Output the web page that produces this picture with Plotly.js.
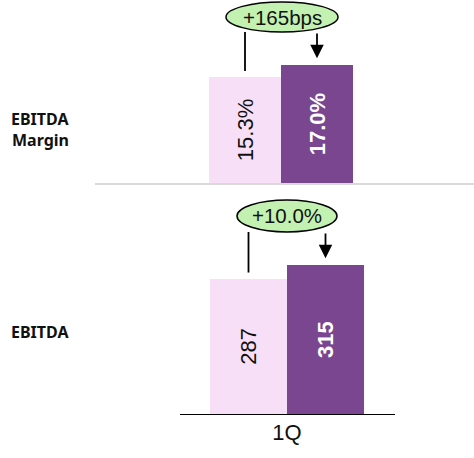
<!DOCTYPE html>
<html>
<head>
<meta charset="utf-8">
<script src="https://cdn.plot.ly/plotly-3.0.1.min.js"></script>
<style>html,body{margin:0;padding:0;background:#fff;}#chart{width:474px;height:458px;}</style>
</head>
<body>
<div id="chart"></div>
<script>
// ---- data ----
const periods = ['Prior', 'Current'];
const marginValues = [15.3, 17.0];
const marginLabels = ['15.3%', '17.0%'];
const ebitdaValues = [287, 315];
const ebitdaLabels = ['287', '315'];
const changeLabels = ['+165bps', '+10.0%'];
const rowLabelLines = [['EBITDA', 'Margin'], ['EBITDA']];
const tickLabels = ['1Q'];

// ---- layout helpers (pixel geometry of the page) ----
const W = 474, H = 458;
const lightCol = '#f7e0f7', darkCol = '#7b4690';
const font = 'Liberation Sans, Arial, sans-serif';

const topR = 26.4;
const topPx = [0, 183];
const botR = 464;
const botPx = [195, 414];

function d2y(py, pxr, R){ return (pxr[1]-py)/(pxr[1]-pxr[0])*R; }

const xs = [0, 1];

function barTrace(vals, labels, xa, ya){
  return {
    type:'bar', x: xs, y: vals, text: labels,
    xaxis:xa, yaxis:ya, width:1,
    marker:{color:[lightCol, darkCol], line:{width:0}},
    textposition:'inside', insidetextanchor:'middle', textangle:-90,
    textfont:{family:font, size:22, color:['#111','#fff'], weight:[400,700]},
    hoverinfo:'skip', cliponaxis:false
  };
}
const traceTop = barTrace(marginValues, marginLabels, 'x2', 'y2');
const traceBot = barTrace(ebitdaValues, ebitdaLabels, 'x', 'y');

function callout(xa, ya, vals, label, pxr, R, cx, rx, ryTop, ryBot){
  const shapes = [], anns = [];
  const yTop = d2y(ryTop, pxr, R), yBot = d2y(ryBot, pxr, R);
  shapes.push({type:'line', xref:xa, yref:ya, x0:xs[0], x1:xs[0],
    y0: vals[0] + 6*R/(pxr[1]-pxr[0]), y1: yBot, line:{color:'#000', width:1.8}});
  shapes.push({type:'circle', xref:xa, yref:ya, x0:cx-rx, x1:cx+rx, y0:yBot, y1:yTop,
    fillcolor:'#c3f1b2', line:{color:'#000', width:1.5}, layer:'above'});
  anns.push({xref:xa, yref:ya, x:cx, y:(yTop+yBot)/2, text:label, showarrow:false,
    font:{family:font, size:20.5, color:'#111'}});
  anns.push({xref:xa, yref:ya, axref:xa, ayref:ya, x:xs[1], y:vals[1], ax:xs[1], ay:yBot,
    text:'', showarrow:true, arrowhead:2, arrowsize:1.5, arrowwidth:1.8, arrowcolor:'#000', standoff:7});
  return {shapes, anns};
}

const cTop = callout('x2','y2', marginValues, changeLabels[0], topPx, topR,
  (282-245)/72, 56/72, 2, 32);
const cBot = callout('x','y', ebitdaValues, changeLabels[1], botPx, botR,
  (287-248.5)/77, 50/77, 200, 232);

function rowLabel(text, py){
  return {xref:'paper', yref:'paper', x:71/W, y:1-py/H, xanchor:'right', yanchor:'middle',
    text:'<b>'+text+'</b>', showarrow:false,
    font:{family:'Noto Sans, sans-serif', size:16, color:'#111'}};
}

const layout = {
  width:W, height:H, margin:{l:0,r:0,t:0,b:0},
  paper_bgcolor:'#fff', plot_bgcolor:'rgba(0,0,0,0)',
  showlegend:false, bargap:0,
  xaxis:{domain:[180/W, 395/W], range:[-68.5/77, 1+69.5/77], showgrid:false, zeroline:false,
    showline:true, linecolor:'#000', linewidth:1.2, ticks:'', tickvals:[0.5], ticktext:tickLabels,
    ticklabelstandoff:-2,
    tickfont:{family:font, size:22, color:'#111'}, fixedrange:true},
  yaxis:{domain:[1-botPx[1]/H, 1-botPx[0]/H], range:[0, botR], visible:false, fixedrange:true},
  xaxis2:{domain:[95/W, 1], range:[-150/72, 1+157/72], showgrid:false, zeroline:false,
    showline:true, linecolor:'#d9d9d9', linewidth:2, showticklabels:false, ticks:'', anchor:'y2', fixedrange:true},
  yaxis2:{domain:[1-topPx[1]/H, 1-topPx[0]/H], range:[0, topR], visible:false, anchor:'x2', fixedrange:true},
  shapes: cTop.shapes.concat(cBot.shapes),
  annotations: cTop.anns.concat(cBot.anns).concat([
    rowLabel(rowLabelLines[0][0], 119),
    rowLabel(rowLabelLines[0][1], 140),
    rowLabel(rowLabelLines[1][0], 332)
  ])
};

Plotly.newPlot('chart', [traceTop, traceBot], layout, {displayModeBar:false, staticPlot:true});
</script>
</body>
</html>
